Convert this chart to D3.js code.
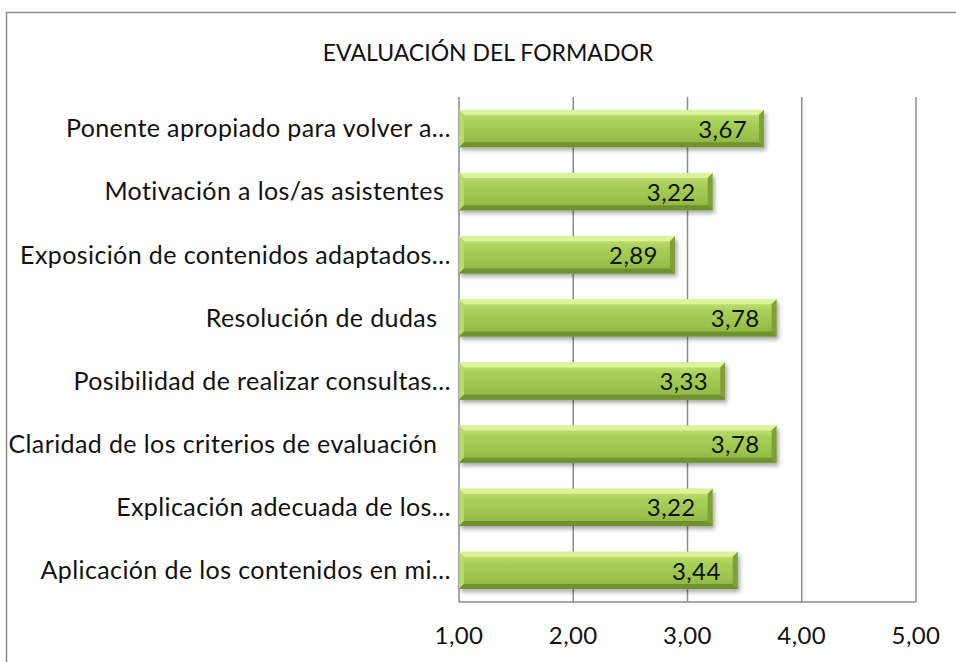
<!DOCTYPE html>
<html>
<head>
<meta charset="utf-8">
<script src="https://cdn.jsdelivr.net/npm/d3@7"></script>
<style>
  body { margin: 0; background: #fff; }
  text { font-family: Lato, "Open Sans", sans-serif; fill: #111; }
</style>
</head>
<body>
<div id="chart"></div>
<script>
// data (top to bottom as drawn)
const categories = [
  "Ponente apropiado para volver a…",
  "Motivación a los/as asistentes ",
  "Exposición de contenidos adaptados…",
  "Resolución de dudas  ",
  "Posibilidad de realizar consultas…",
  "Claridad de los criterios de evaluación  ",
  "Explicación adecuada de los…",
  "Aplicación de los contenidos en mi…"
];
const values = [3.67, 3.22, 2.89, 3.78, 3.33, 3.78, 3.22, 3.44];
const ticks = [1, 2, 3, 4, 5];
const title = "EVALUACIÓN DEL FORMADOR";

const width = 956, height = 662;
const margin = { top: 97, right: 40, bottom: 60, left: 459 };
const fmt = v => d3.format(".2f")(v).replace(".", ",");

const svg = d3.select("#chart").append("svg")
  .attr("width", width)
  .attr("height", height);

const defs = svg.append("defs");
const grad = defs.append("linearGradient")
  .attr("id", "barGrad").attr("x1", 0).attr("y1", 0).attr("x2", 0).attr("y2", 1);
grad.append("stop").attr("offset", "0%").attr("stop-color", "#c8e67a");
grad.append("stop").attr("offset", "30%").attr("stop-color", "#a9d05a");
grad.append("stop").attr("offset", "75%").attr("stop-color", "#98c14a");
grad.append("stop").attr("offset", "100%").attr("stop-color", "#86ad3c");

const shadow = defs.append("filter").attr("id", "shadow")
  .attr("x", "-5%").attr("y", "-20%").attr("width", "115%").attr("height", "160%");
shadow.append("feDropShadow")
  .attr("dx", 2).attr("dy", 3).attr("stdDeviation", 2.2)
  .attr("flood-color", "#000").attr("flood-opacity", 0.35);

// outer chart border (top + left only visible)
svg.append("path")
  .attr("d", `M6.5,${height} V12.5 H${width}`)
  .attr("fill", "none")
  .attr("stroke", "#8c8c8c")
  .attr("stroke-width", 1.5);

svg.append("text")
  .attr("x", 488)
  .attr("y", 61)
  .attr("text-anchor", "middle")
  .attr("font-size", 23)
  .text(title);

const x = d3.scaleLinear()
  .domain([1, 5])
  .range([margin.left, width - margin.right]);

const y = d3.scaleBand()
  .domain(categories)
  .range([margin.top, height - margin.bottom])
  .paddingInner(0.41)
  .paddingOuter(0.205);

// gridlines
svg.selectAll("line.grid")
  .data(ticks)
  .join("line")
  .attr("class", "grid")
  .attr("x1", d => x(d)).attr("x2", d => x(d))
  .attr("y1", margin.top).attr("y2", height - margin.bottom)
  .attr("stroke", "#8c8c8c")
  .attr("stroke-width", 1.5);

// bottom axis line
svg.append("line")
  .attr("x1", x(1)).attr("x2", x(5))
  .attr("y1", height - margin.bottom).attr("y2", height - margin.bottom)
  .attr("stroke", "#8c8c8c")
  .attr("stroke-width", 1.5);

// tick labels
svg.selectAll("text.tick")
  .data(ticks)
  .join("text")
  .attr("class", "tick")
  .attr("x", d => x(d))
  .attr("y", height - margin.bottom + 42)
  .attr("text-anchor", "middle")
  .attr("font-size", 24)
  .attr("letter-spacing", 0.4)
  .text(d => fmt(d));

// category labels
svg.selectAll("text.cat")
  .data(categories)
  .join("text")
  .attr("class", "cat")
  .attr("x", margin.left - 8)
  .attr("y", d => y(d) + y.bandwidth() / 2)
  .attr("dy", "0.35em")
  .attr("text-anchor", "end")
  .attr("font-size", 25)
  .attr("letter-spacing", 0.4)
  .style("white-space", "pre")
  .text(d => d);

// bars with bevel
const b = 5;
const bars = svg.selectAll("g.bar")
  .data(categories.map((c, i) => ({ c, v: values[i] })))
  .join("g")
  .attr("class", "bar");

bars.append("rect")
  .attr("x", x(1))
  .attr("y", d => y(d.c))
  .attr("width", d => x(d.v) - x(1))
  .attr("height", y.bandwidth())
  .attr("fill", "url(#barGrad)")
  .attr("filter", "url(#shadow)");

// top bevel
bars.append("path")
  .attr("d", d => {
    const x0 = x(1), x1 = x(d.v), y0 = y(d.c);
    return `M${x0},${y0} H${x1} L${x1 - b},${y0 + b} H${x0 + b} Z`;
  })
  .attr("fill", "#dcf39a");
// left bevel
bars.append("path")
  .attr("d", d => {
    const x0 = x(1), y0 = y(d.c), y1 = y0 + y.bandwidth();
    return `M${x0},${y0} L${x0 + b},${y0 + b} V${y1 - b} L${x0},${y1} Z`;
  })
  .attr("fill", "#b8dc6c");
// right bevel
bars.append("path")
  .attr("d", d => {
    const x1 = x(d.v), y0 = y(d.c), y1 = y0 + y.bandwidth();
    return `M${x1},${y0} L${x1 - b},${y0 + b} V${y1 - b} L${x1},${y1} Z`;
  })
  .attr("fill", "#7ea036");
// bottom bevel
bars.append("path")
  .attr("d", d => {
    const x0 = x(1), x1 = x(d.v), y1 = y(d.c) + y.bandwidth();
    return `M${x0},${y1} H${x1} L${x1 - b},${y1 - b} H${x0 + b} Z`;
  })
  .attr("fill", "#6f9130");

// value labels
bars.append("text")
  .attr("x", d => x(d.v) - 17)
  .attr("y", d => y(d.c) + y.bandwidth() / 2)
  .attr("dy", "0.38em")
  .attr("text-anchor", "end")
  .attr("font-size", 24)
  .attr("letter-spacing", 0.4)
  .text(d => fmt(d.v));
</script>
</body>
</html>
